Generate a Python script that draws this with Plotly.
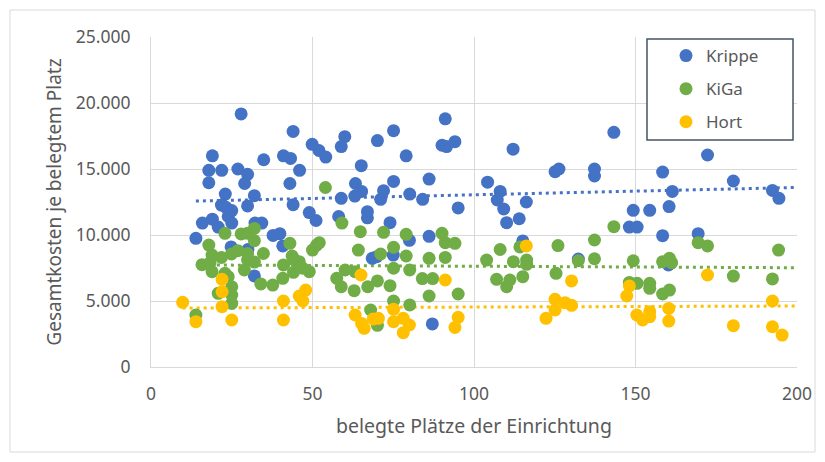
import plotly.graph_objects as go

# ---------------- data ----------------
series_names = ["Krippe", "KiGa", "Hort"]

krippe_x = [27.9, 44.0, 60.0, 58.9, 49.9, 52.0, 54.1, 19.0, 34.9, 41.0,
            43.2, 46.0, 17.9, 21.9, 26.9, 29.9, 17.9, 29.0, 43.0, 23.0,
            32.0, 21.8, 23.2, 25.0, 29.9, 44.0, 58.9, 63.1, 63.3, 65.1,
            23.9, 15.9, 19.0, 20.8, 25.0, 32.2, 34.3, 49.0, 51.1, 58.1,
            13.9, 37.8, 39.9, 40.8, 24.8, 30.0, 32.0, 91.1, 70.1, 75.1,
            79.0, 90.1, 91.5, 94.1, 112.1, 65.2, 72.0, 71.1, 75.1, 80.1,
            84.1, 86.1, 95.1, 67.0, 67.0, 74.0, 80.0, 86.1, 104.2, 108.1,
            107.2, 109.2, 116.2, 110.1, 114.0, 115.1, 68.5, 69.9, 75.0, 87.1,
            143.3, 125.1, 126.3, 137.3, 137.3, 172.3, 158.4, 180.3, 161.4, 192.4,
            194.4, 149.3, 154.4, 160.4, 148.1, 150.5, 158.4, 169.4, 132.3, 160.2]
krippe_y = [19170, 17850, 17450, 16700, 16870, 16400, 15900, 16000, 15700, 16000,
            15800, 14900, 14900, 14900, 15000, 14600, 13960, 13900, 13900, 13100,
            12980, 12270, 12100, 11850, 12200, 12300, 12780, 12950, 13900, 15250,
            11400, 10900, 11200, 10600, 10900, 10900, 10900, 11700, 11100, 11400,
            9750, 9970, 10100, 9170, 9100, 8900, 6900, 18800, 17150, 17900,
            16000, 16800, 16700, 17070, 16500, 13300, 13360, 12700, 14060, 13100,
            12700, 14240, 12050, 11770, 11300, 10930, 9600, 9900, 14000, 13300,
            12650, 11970, 12500, 10930, 11230, 9550, 8230, 8360, 8480, 3260,
            17780, 14800, 15000, 15000, 14470, 16060, 14770, 14090, 13300, 13380,
            12780, 11870, 11870, 12150, 10600, 10600, 9950, 10100, 8180, 7730]

kiga_x = [32.0, 22.9, 27.9, 29.9, 32.0, 17.9, 34.8, 43.0, 18.9, 21.8,
          24.9, 26.9, 29.9, 29.9, 32.0, 15.8, 18.3, 18.9, 22.9, 23.9,
          28.9, 34.0, 37.7, 40.8, 41.0, 43.7, 44.4, 44.1, 45.9, 47.0,
          49.0, 50.0, 51.3, 52.1, 25.0, 25.0, 25.0, 20.8, 13.9, 59.1,
          64.8, 64.2, 57.5, 58.9, 63.2, 62.9, 60.1, 54.0, 72.0, 79.0,
          90.1, 91.1, 94.1, 71.1, 75.1, 79.0, 86.1, 91.1, 75.1, 80.1,
          70.1, 74.0, 67.1, 84.0, 87.2, 86.1, 95.1, 75.1, 80.1, 68.0,
          70.1, 103.9, 108.1, 112.2, 114.2, 116.3, 116.3, 107.0, 110.1, 111.1,
          115.1, 126.0, 125.4, 143.3, 137.3, 137.3, 132.3, 149.3, 158.4, 160.5,
          161.2, 169.4, 172.3, 194.3, 180.3, 192.4, 148.1, 150.5, 154.4, 154.4,
          158.4, 160.5]
kiga_y = [10500, 10130, 10080, 10130, 9570, 9240, 8600, 9370, 8480, 8300,
          8560, 8810, 8600, 8100, 7950, 7750, 7900, 7220, 7100, 6840,
          7350, 6290, 6210, 6720, 7730, 8410, 8100, 7170, 7980, 7480,
          7220, 8860, 9240, 9420, 6080, 5450, 4820, 5580, 3940, 10900,
          10250, 8860, 6720, 6080, 7220, 5780, 7350, 13600, 10200, 10050,
          10130, 9420, 9370, 8560, 9070, 8410, 8230, 8300, 7480, 7350,
          6520, 6160, 6080, 6700, 6700, 5380, 5530, 5000, 4700, 4320,
          3160, 8100, 8900, 7980, 9100, 8100, 7780, 6640, 6080, 6590,
          6840, 9200, 7100, 10630, 9620, 8200, 8050, 8050, 7980, 8230,
          7900, 9420, 9170, 8860, 6890, 6670, 6410, 6340, 6340, 5960,
          5530, 5830]

hort_x = [9.8, 13.9, 22.0, 22.0, 22.0, 25.0, 41.0, 41.0, 45.9, 47.9,
          47.0, 65.0, 63.2, 65.2, 66.0, 68.8, 70.4, 75.1, 75.1, 78.1,
          80.0, 78.1, 95.1, 94.1, 91.1, 116.2, 125.1, 122.3, 125.1, 130.2,
          172.3, 128.2, 130.2, 148.1, 147.3, 150.4, 152.2, 154.4, 154.4, 160.3,
          160.3, 180.3, 192.4, 192.4, 195.4]
hort_y = [4900, 3430, 6640, 5700, 4570, 3560, 5000, 3560, 5380, 5830,
          5000, 6970, 3940, 3300, 2930, 3640, 3690, 4370, 3430, 3690,
          3180, 2600, 3760, 3000, 6590, 9170, 5130, 3690, 4320, 6520,
          6970, 4870, 4670, 6140, 5380, 3940, 3560, 4190, 3810, 4440,
          3480, 3130, 5000, 3050, 2420]

# linear trendlines (start / end of each dotted line)
krippe_trend_x = [13.9, 200]
krippe_trend_y = [12570, 13600]
kiga_trend_x = [13.9, 200]
kiga_trend_y = [7730, 7520]
hort_trend_x = [9.8, 200]
hort_trend_y = [4470, 4620]

x_ticks = [0, 50, 100, 150, 200]
y_ticks = [0, 5000, 10000, 15000, 20000, 25000]

colors = ["#4472C4", "#70AD47", "#FFC000"]
xs_all = [krippe_x, kiga_x, hort_x]
ys_all = [krippe_y, kiga_y, hort_y]
trend_x_all = [krippe_trend_x, kiga_trend_x, hort_trend_x]
trend_y_all = [krippe_trend_y, kiga_trend_y, hort_trend_y]

# ---------------- figure ----------------
fig = go.Figure()

for tx, ty, c in zip(trend_x_all, trend_y_all, colors):
    fig.add_trace(go.Scatter(
        x=tx, y=ty, mode="lines",
        line=dict(color=c, width=3, dash="3px,4px"),
        showlegend=False, hoverinfo="skip"))

for name, xs, ys, c in zip(series_names, xs_all, ys_all, colors):
    fig.add_trace(go.Scatter(
        x=xs, y=ys, mode="markers", name=name, legendgroup=name,
        marker=dict(color=c, size=13, line=dict(width=0))))

# the page body adds an 8px offset, so the figure is sized to fit inside it
OFF = 8
W, H = 825 - OFF, 462 - OFF
PL, PR, PT, PB = 151, 797, 37, 367   # plot area in window pixels
L, T = PL - OFF, PT - OFF
R = W - (PR - OFF)
B = H - (PB - OFF)


def px_x(p):
    return (p - PL) / (PR - PL)


def px_y(p):
    return (PB - p) / (PB - PT)


fig.update_layout(
    width=W, height=H,
    margin=dict(l=L, r=R, t=T, b=B, pad=0),
    paper_bgcolor="white", plot_bgcolor="white",
    separators=",.",
    font=dict(family="Noto Sans", size=17, color="#595959"),
    showlegend=True,
    legend=dict(
        x=px_x(666), y=px_y(38), xanchor="left", yanchor="top",
        bgcolor="rgba(0,0,0,0)", borderwidth=0,
        font=dict(family="Noto Sans", size=17, color="#595959"),
        traceorder="grouped", tracegroupgap=8, itemsizing="trace"),
    xaxis=dict(
        range=[0, 200], tickvals=x_ticks, showgrid=True, gridcolor="#D9D9D9",
        gridwidth=1, showline=True, linecolor="#D9D9D9", linewidth=1,
        zeroline=False, ticks="", ticklabelstandoff=11, automargin=False,
        tickfont=dict(size=17.5, color="#595959"),
        title=dict(text="belegte Plätze der Einrichtung",
                   font=dict(size=19.5, color="#595959"), standoff=15)),
    yaxis=dict(
        range=[0, 25000], tickvals=y_ticks, tickformat=",d", showgrid=True,
        gridcolor="#D9D9D9", gridwidth=1, showline=True, linecolor="#D9D9D9",
        linewidth=1, zeroline=False, ticks="", ticklabelstandoff=16,
        automargin=False, tickfont=dict(size=17.5, color="#595959"),
        title=dict(text="Gesamtkosten je belegtem Platz",
                   font=dict(size=19, color="#595959"), standoff=9)),
    shapes=[
        dict(type="rect", xref="paper", yref="paper",
             x0=px_x(10), x1=px_x(815), y0=px_y(452), y1=px_y(10),
             line=dict(color="#D9D9D9", width=1), fillcolor="rgba(0,0,0,0)",
             layer="below"),
        dict(type="rect", xref="paper", yref="paper",
             x0=px_x(647), x1=px_x(793), y0=px_y(140), y1=px_y(39),
             line=dict(color="#44546A", width=1.5), fillcolor="white",
             layer="above"),
    ],
)

fig.write_html("out.html")
